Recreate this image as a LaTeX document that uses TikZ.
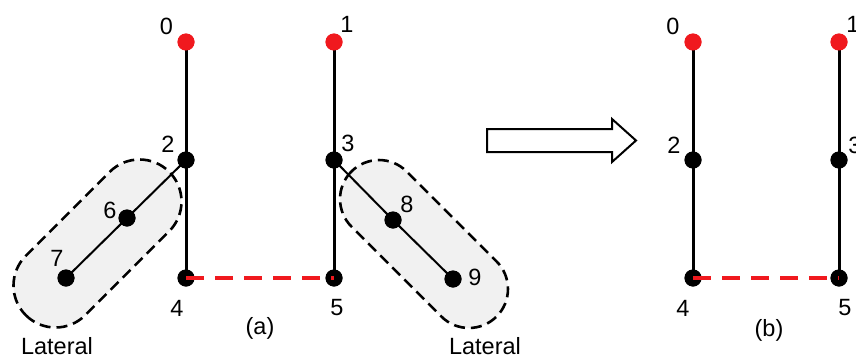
\documentclass[tikz,border=0pt]{standalone}
\usepackage{fontspec}
\setmainfont{Liberation Sans}
\definecolor{nodered}{RGB}{240,25,30}
\definecolor{latfill}{RGB}{241,241,241}
\tikzset{
  bdot/.style={circle, fill=black, inner sep=0pt, minimum size=17pt},
  rdot/.style={circle, fill=nodered, inner sep=0pt, minimum size=17pt},
  lbl/.style={inner sep=0pt, font=\fontsize{23.5}{27}\selectfont},
  trunk/.style={line width=3pt},
  branch/.style={line width=2pt},
  link/.style={line width=3.2pt, nodered, dash pattern=on 18pt off 11pt},
  lateralbox/.style={line width=2.6pt, dash pattern=on 11pt off 6pt, fill=latfill, rounded corners=#1},
}
\begin{document}
\begin{tikzpicture}[x=1pt,y=-1pt]
\useasboundingbox (0,0) rectangle (856,359);
\clip (0,0) rectangle (856,359);
% lateral regions
\begin{scope}[shift={(97.5,243.5)}, rotate=45]
  \draw[lateralbox=42pt] (-101.4,-42) rectangle (101.4,42);
\end{scope}
\begin{scope}[shift={(424,244)}, rotate=-45]
  \draw[lateralbox=39pt] (-102.6,-39) rectangle (102.6,39);
\end{scope}
% panel (a) nodes
\node[rdot] (a0) at (186,42) {};
\node[rdot] (a1) at (334,42) {};
\node[bdot] (a2) at (186,160) {};
\node[bdot] (a3) at (334,160) {};
\node[bdot] (a4) at (186,278) {};
\node[bdot] (a5) at (334,278) {};
\node[bdot] (a6) at (127,218) {};
\node[bdot] (a7) at (66,278) {};
\node[bdot] (a8) at (393,220) {};
\node[bdot] (a9) at (453,279) {};
\draw[trunk] (a0.center) -- (a2.center) -- (a4.center);
\draw[trunk] (a1.center) -- (a3.center) -- (a5.center);
\draw[branch] (a2.center) -- (a6.center) -- (a7.center);
\draw[branch] (a3.center) -- (a8.center) -- (a9.center);
% redraw dots on top
\foreach \n in {a2,a3,a4,a5,a6,a7,a8,a9} {\fill (\n) circle (8.5pt);}
\fill[nodered] (a0) circle (8.5pt);
\fill[nodered] (a1) circle (8.5pt);
\draw[link] (a4.center) -- (a5.center);
% labels (a)
\node[lbl] (la0) at (166.5,26) {0};
\node[lbl] (la1) at (347,24) {1};
\node[lbl] (la2) at (168,144) {2};
\node[lbl] (la3) at (348,143) {3};
\node[lbl] (la4) at (177,308) {4};
\node[lbl] (la5) at (337,308) {5};
\node[lbl] (la6) at (110,210) {6};
\node[lbl] (la7) at (57,258) {7};
\node[lbl] (la8) at (407,204) {8};
\node[lbl] (la9) at (475,277) {9};
\node[lbl] (laa) at (260,328) {(a)};
\node[lbl] (lat1) at (57,346.5) {Lateral};
\node[lbl] (lat2) at (485,346.5) {Lateral};
% transition arrow
\draw[line width=2pt, fill=white, line join=miter] (487,129) -- (612,129) -- (612,119) -- (636,140.5) -- (612,162) -- (612,152) -- (487,152) -- cycle;
% panel (b)
\node[rdot] (b0) at (693,42) {};
\node[rdot] (b1) at (839,42) {};
\node[bdot] (b2) at (693,160) {};
\node[bdot] (b3) at (839,160) {};
\node[bdot] (b4) at (693,278) {};
\node[bdot] (b5) at (839,278) {};
\draw[trunk] (b0.center) -- (b2.center) -- (b4.center);
\draw[trunk] (b1.center) -- (b3.center) -- (b5.center);
\foreach \n in {b2,b3,b4,b5} {\fill (\n) circle (8.5pt);}
\fill[nodered] (b0) circle (8.5pt);
\fill[nodered] (b1) circle (8.5pt);
\draw[link] (b4.center) -- (b5.center);
\node[lbl] (lb0) at (673,26) {0};
\node[lbl] (lb1) at (853,24) {1};
\node[lbl] (lb2) at (674,145) {2};
\node[lbl] (lb3) at (855,145) {3};
\node[lbl] (lb4) at (683,308) {4};
\node[lbl] (lb5) at (845,308) {5};
\node[lbl] (lbb) at (769,330) {(b)};
\end{tikzpicture}
\end{document}
